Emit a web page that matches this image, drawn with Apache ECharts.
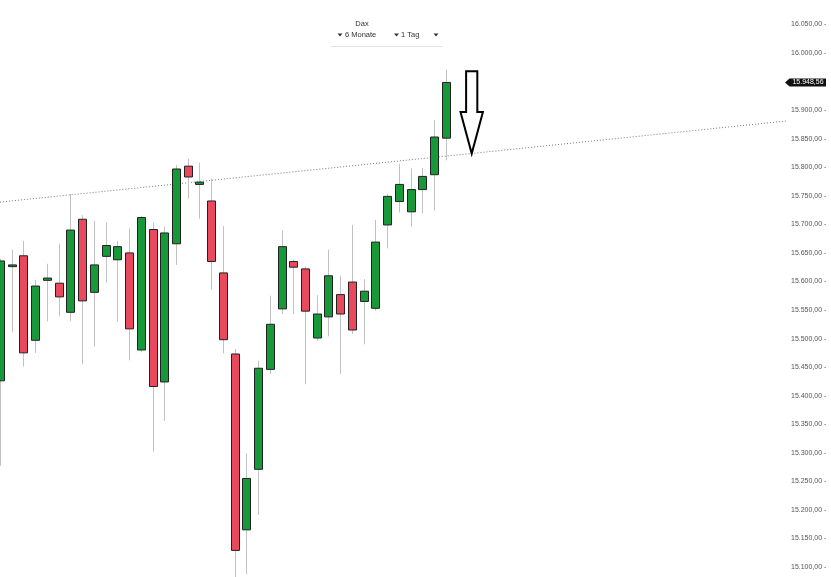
<!DOCTYPE html>
<html><head><meta charset="utf-8">
<script src="https://cdn.jsdelivr.net/npm/echarts@6/dist/echarts.min.js"></script>
<style>html,body{margin:0;padding:0;background:#fff}#c{width:831px;height:577px}</style>
</head><body><div id="c"></div>
<script>
// ---- data ----
const dates = ['21.06','22.06','23.06','24.06','25.06','28.06','29.06','30.06','01.07','02.07',
  '05.07','06.07','07.07','08.07','09.07','12.07','13.07','14.07','15.07','16.07',
  '19.07','20.07','21.07','22.07','23.07','26.07','27.07','28.07','29.07','30.07',
  '02.08','03.08','04.08','05.08','06.08','09.08','10.08','11.08','12.08'];
const openV  = [15426,15626,15645,15497,15602,15597,15546,15709,15581,15644,
  15638,15650,15480,15691,15424,15666,15802,15770,15741,15615,
  15473,15165,15271,15446,15552,15635,15622,15501,15538,15577,
  15599,15565,15553,15699,15740,15722,15761,15787,15851];
const highV  = [15640,15656,15671,15603,15631,15666,15753,15716,15706,15703,
  15671,15693,15715,15703,15696,15804,15815,15808,15780,15697,
  15482,15299,15461,15575,15689,15638,15626,15576,15656,15610,
  15699,15604,15708,15753,15806,15798,15799,15883,15971];
const lowV   = [15277,15511,15451,15475,15530,15539,15531,15455,15486,15598,
  15530,15462,15476,15302,15356,15629,15745,15710,15586,15474,
  15081,15087,15191,15438,15543,15543,15420,15496,15504,15438,
  15508,15490,15549,15658,15721,15696,15719,15724,15812];
const closeV = [15636,15629,15475,15592,15606,15573,15690,15566,15629,15663,
  15661,15517,15712,15416,15685,15797,15783,15774,15635,15498,
  15129,15255,15448,15525,15661,15625,15548,15543,15610,15543,
  15515,15583,15669,15749,15770,15761,15784,15853,15948.56];
const futureSlots = 29;            // empty days to the right of the last candle
const trendLine = [[0, 15739], [67, 15881]];
const arrowX = 40.21, arrowTip = 15824, arrowHeadBase = 15897, arrowTop = 15968;
const yMin = 15050, yMax = 16100, yStep = 50;
const titleText = 'Dax', periodText = '6 Monate', intervalText = '1 Tag';

// ---- helpers ----
function de(v){
  const s = v.toFixed(2).split('.');
  return s[0].replace(/\B(?=(\d{3})+(?!\d))/g,'.') + ',' + s[1];
}
const cats = dates.slice();
for (let k = 0; k < futureSlots; k++) cats.push('');
const candles = dates.map((d,i)=>[i, openV[i], closeV[i], lowV[i], highV[i]]);
const GREEN = '#17993a', RED = '#e9495c';
const FONT = '"Liberation Sans", Arial, sans-serif';

const chart = echarts.init(document.getElementById('c'), null, {renderer:'canvas'});
chart.setOption({
  animation:false,
  backgroundColor:'#fff',
  grid:{left:0, right:45, top:-4, bottom:-18.5, containLabel:false, outerBoundsMode:'none'},
  xAxis:{type:'category', data:cats, boundaryGap:false, show:false},
  yAxis:{type:'value', position:'right', min:yMin, max:yMax, interval:yStep, scale:true,
    splitLine:{show:false}, axisLine:{show:false}, axisTick:{show:false},
    axisLabel:{fontSize:7, color:'#555', margin:5, fontFamily:FONT,
      formatter:v=>de(v)+' -'}},
  series:[
    {type:'line', data:trendLine, symbol:'none', silent:true, z:1,
      lineStyle:{color:'#777', width:1, type:[1,2]}},
    {type:'custom', z:3, data:candles, encode:{x:0, y:[1,2,3,4]},
      renderItem:function(params, api){
        const i = api.value(0), o = api.value(1), c = api.value(2), l = api.value(3), h = api.value(4);
        const pO = api.coord([i,o]), pC = api.coord([i,c]), pH = api.coord([i,h]), pL = api.coord([i,l]);
        const x = Math.round(pO[0]) + 0.5;
        const bw = 8;
        const top = Math.min(pO[1],pC[1]), bot = Math.max(pO[1],pC[1]);
        const up = c >= o;
        return {type:'group', children:[
          {type:'line', shape:{x1:x, y1:pH[1], x2:x, y2:pL[1]}, style:{stroke:'#c2c2c2', lineWidth:1}},
          {type:'rect', shape:{x:x-bw/2, y:top, width:bw, height:Math.max(bot-top,1.5)},
            style:{fill: up?GREEN:RED, stroke:'#222', lineWidth:1}}
        ]};
      }}
  ]
});

// annotation graphics positioned via the axes
const last = closeV[closeV.length-1];
const by = chart.convertToPixel({yAxisIndex:0}, last);
const x40 = chart.convertToPixel({xAxisIndex:0}, 40), x41 = chart.convertToPixel({xAxisIndex:0}, 41);
const ax = x40 + (x41-x40)*(arrowX-40);
const yTip = chart.convertToPixel({yAxisIndex:0}, arrowTip);
const yHead = chart.convertToPixel({yAxisIndex:0}, arrowHeadBase);
const yTop = chart.convertToPixel({yAxisIndex:0}, arrowTop);
const sw = 5.6, hw = 11.2;
const gx = chart.getWidth()-45;

function tri(cx, cy){
  return {type:'polygon', shape:{points:[[cx-2.5,cy-1.5],[cx+2.5,cy-1.5],[cx,cy+1.5]]}, style:{fill:'#333'}};
}
chart.setOption({graphic:[
  {type:'polygon', shape:{points:[[ax-sw,yTop],[ax+sw,yTop],[ax+sw,yHead],[ax+hw,yHead],[ax,yTip],[ax-hw,yHead],[ax-sw,yHead]]},
    style:{fill:'#fff', stroke:'#000', lineWidth:2, lineJoin:'miter'}, z:10},
  {type:'polygon', shape:{points:[[gx-1,by],[gx+3.5,by-4],[gx+40,by-4],[gx+40,by+4],[gx+3.5,by+4]]},
    style:{fill:'#111'}, z:10},
  {type:'text', x:gx+22, y:by, style:{text:de(last), fill:'#fff', font:'7px '+FONT, align:'center', verticalAlign:'middle'}, z:11},
  {type:'text', x:362, y:24, style:{text:titleText, fill:'#333', font:'7.5px '+FONT, align:'center', verticalAlign:'middle'}},
  tri(340, 35),
  {type:'text', x:345, y:35, style:{text:periodText, fill:'#333', font:'7.5px '+FONT, align:'left', verticalAlign:'middle'}},
  tri(396.5, 35),
  {type:'text', x:401, y:35, style:{text:intervalText, fill:'#333', font:'7.5px '+FONT, align:'left', verticalAlign:'middle'}},
  tri(436, 35),
  {type:'line', shape:{x1:331, y1:46.5, x2:442, y2:46.5}, style:{stroke:'#e2e2e2', lineWidth:1}}
]});
</script>
</body></html>
